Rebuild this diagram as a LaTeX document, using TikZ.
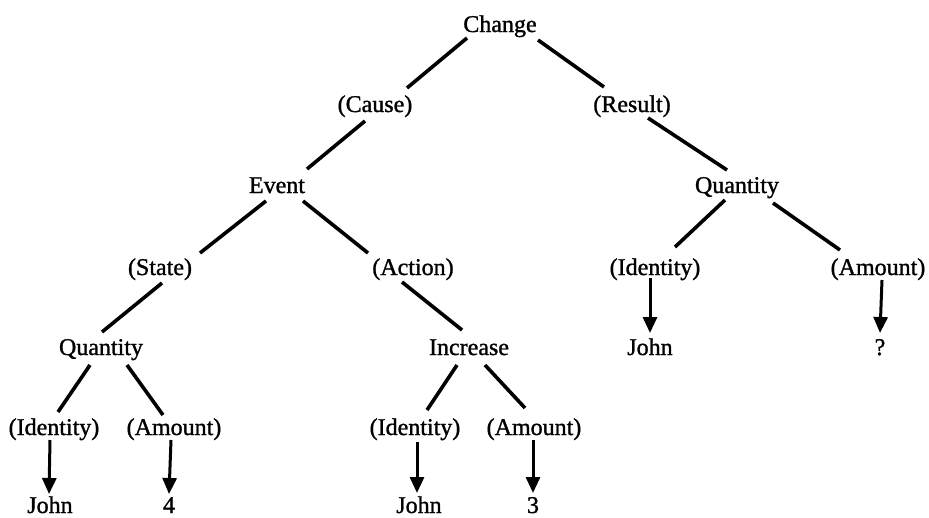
\documentclass[tikz,border=0pt]{standalone}
\usepackage{fontspec}
\setmainfont{Liberation Serif}[FakeBold=1.2]
\usetikzlibrary{calc,arrows.meta}
\begin{document}
\begin{tikzpicture}[x=1pt,y=-1pt,
  lbl/.style={anchor=base,inner sep=0pt,font=\fontsize{24}{28}\selectfont},
  edge/.style={line width=3.6pt},
  ptr/.style={line width=3pt,-{Triangle[length=16pt,width=14pt]}}]
\useasboundingbox (0,0) rectangle (929,517);
% nodes
\node[lbl] (change)   at (500,32)  {Change};
\node[lbl] (cause)    at (375,112) {(Cause)};
\node[lbl] (result)   at (632,112) {(Result)};
\node[lbl] (event)    at (277,193) {Event};
\node[lbl] (quantR)   at (737,193) {Quantity};
\node[lbl] (state)    at (160,275) {(State)};
\node[lbl] (action)   at (413,275) {(Action)};
\node[lbl] (identR)   at (655,275) {(Identity)};
\node[lbl] (amountR)  at (878,275) {(Amount)};
\node[lbl] (quantL)   at (101,355) {Quantity};
\node[lbl] (increase) at (469,355) {Increase};
\node[lbl] (johnR)    at (650,355) {John};
\node[lbl] (qmark)    at (880,355) {?};
\node[lbl] (identL)   at (54,435)  {(Identity)};
\node[lbl] (amountL)  at (174,435) {(Amount)};
\node[lbl] (identM)   at (415,435) {(Identity)};
\node[lbl] (amountM)  at (534,435) {(Amount)};
\node[lbl] (johnL)    at (50,513)  {John};
\node[lbl] (four)     at (169,513) {4};
\node[lbl] (johnM)    at (419,513) {John};
\node[lbl] (three)    at (533,513) {3};
% tree edges
\draw[edge] ($(change.base)+(-33,6)$) -- ($(cause.base)+(32,-24)$);
\draw[edge] ($(change.base)+(38,8)$) -- ($(result.base)+(-28,-25)$);
\draw[edge] ($(cause.base)+(-10,9)$) -- ($(event.base)+(30,-24)$);
\draw[edge] ($(result.base)+(16,6)$) -- ($(quantR.base)+(-10,-23)$);
\draw[edge] ($(event.base)+(-11,8)$) -- ($(state.base)+(40,-22)$);
\draw[edge] ($(event.base)+(26,8)$) -- ($(action.base)+(-45,-22)$);
\draw[edge] ($(state.base)+(2,8)$) -- ($(quantL.base)+(1,-23)$);
\draw[edge] ($(action.base)+(-11,7)$) -- ($(increase.base)+(-7,-25)$);
\draw[edge] ($(quantR.base)+(-12,7)$) -- ($(identR.base)+(20,-28)$);
\draw[edge] ($(quantR.base)+(36,10)$) -- ($(amountR.base)+(-38,-25)$);
\draw[edge] ($(quantL.base)+(-11,10)$) -- ($(identL.base)+(4,-23)$);
\draw[edge] ($(quantL.base)+(26,10)$) -- ($(amountL.base)+(-11,-20)$);
\draw[edge] ($(increase.base)+(-12,10)$) -- ($(identM.base)+(12,-25)$);
\draw[edge] ($(increase.base)+(16,10)$) -- ($(amountM.base)+(-9,-27)$);
% pointers
\draw[ptr] ($(identL.base)+(-4,5)$) -- ($(johnL.base)+(-1,-19)$);
\draw[ptr] ($(amountL.base)+(-3,5)$) -- ($(four.base)+(0,-19)$);
\draw[ptr] ($(identM.base)+(2,7)$) -- ($(johnM.base)+(-2,-20)$);
\draw[ptr] ($(amountM.base)+(-1,5)$) -- ($(three.base)+(0,-20)$);
\draw[ptr] ($(identR.base)+(-5,3)$) -- ($(johnR.base)+(0,-22)$);
\draw[ptr] ($(amountR.base)+(4,5)$) -- ($(qmark.base)+(0,-22)$);
\end{tikzpicture}
\end{document}
